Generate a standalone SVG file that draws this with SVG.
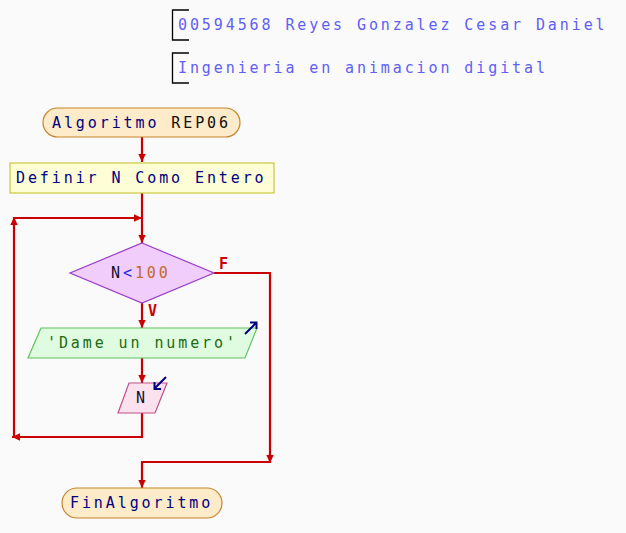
<svg xmlns="http://www.w3.org/2000/svg" width="626" height="533" viewBox="0 0 626 533">
<style>
text{font-family:"DejaVu Sans Mono","Liberation Mono",monospace;font-size:15px;letter-spacing:2.9px}
.title{fill:#6060f4}
.bracket{fill:none;stroke:#000;stroke-width:1.3}
.con{fill:none;stroke:#cc0000;stroke-width:2.2}
.lbl{fill:#cc0000;font-weight:bold;letter-spacing:0;font-size:15px}
.icon{fill:none;stroke:#000080;stroke-width:2}
.term{fill:#fdebc9;stroke:#c8842c;stroke-width:1.2}
</style>
<defs>
<marker id="ah" markerUnits="userSpaceOnUse" markerWidth="9" markerHeight="9" refX="8" refY="4.5" orient="auto">
<path d="M0,0.8 L8,4.5 L0,8.2 z" fill="#cc0000"/>
</marker>
</defs>
<rect width="626" height="533" fill="#fafafa"/>
<g id="header">
<path class="bracket" d="M189,10 H172.5 V40 H189"/>
<text class="title" x="178" y="30">00594568 Reyes Gonzalez Cesar Daniel</text>
<path class="bracket" d="M189,53 H172.5 V83 H189"/>
<text class="title" x="178" y="73">Ingenieria en animacion digital</text>
</g>
<g id="connectors">
<path class="con" d="M142,137 V162" marker-end="url(#ah)"/>
<path class="con" d="M142,193 V243" marker-end="url(#ah)"/>
<path class="con" d="M14,218 H142" marker-end="url(#ah)"/>
<path class="con" d="M142,303 V328" marker-end="url(#ah)"/>
<path class="con" d="M142,358 V383" marker-end="url(#ah)"/>
<path class="con" d="M142,413 V437 H12" marker-end="url(#ah)"/>
<path class="con" d="M14,437 V217" marker-end="url(#ah)"/>
<path class="con" d="M214,273 H270 V463" marker-end="url(#ah)"/>
<path class="con" d="M270,462 H142 V488" marker-end="url(#ah)"/>
<text class="lbl" x="219" y="269">F</text>
<text class="lbl" x="148" y="316">V</text>
</g>
<g id="start">
<rect class="term" x="43" y="108" width="197" height="29" rx="14.5"/>
<text x="52" y="128"><tspan fill="#000080">Algoritmo</tspan> <tspan fill="#101010">REP06</tspan></text>
</g>
<g id="definir">
<rect x="10" y="163" width="264" height="30" fill="#fefed6" stroke="#c8c840" stroke-width="1.2"/>
<text x="16" y="183" fill="#000080">Definir N Como Entero</text>
</g>
<g id="cond">
<polygon points="142,243 214,273 142,303 70,273" fill="#f0cdfa" stroke="#9a3ccc" stroke-width="1.2"/>
<text x="111" y="278"><tspan fill="#101030">N</tspan><tspan fill="#2030e0">&lt;</tspan><tspan fill="#c06a30">100</tspan></text>
</g>
<g id="escribir">
<polygon points="41,328 257,328 245,358 28,358" fill="#e0fce0" stroke="#60c060" stroke-width="1.2"/>
<text x="47" y="348" fill="#206a10">'Dame un numero'</text>
<path class="icon" d="M245,334 L256,323 M250,322.5 H256.5 V329"/>
</g>
<g id="leer">
<polygon points="129,383 167,383 155,413 118,413" fill="#fce2ef" stroke="#c0508a" stroke-width="1.2"/>
<text x="136" y="403" fill="#101030">N</text>
<path class="icon" d="M166,377 L155,388 M154.5,382 V389 H161"/>
</g>
<g id="end">
<rect class="term" x="62" y="488" width="160" height="30" rx="15"/>
<text x="70" y="508" fill="#000080">FinAlgoritmo</text>
</g>
</svg>
